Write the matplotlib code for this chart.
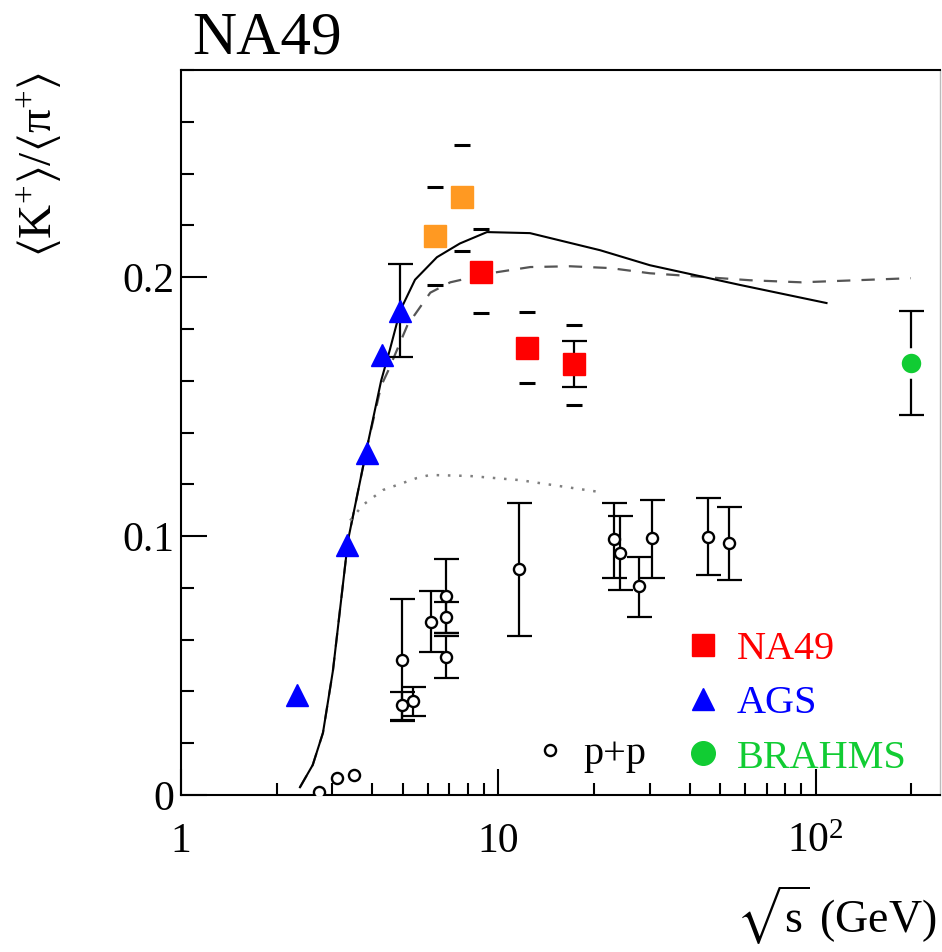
import matplotlib
matplotlib.use('Agg')
import matplotlib.pyplot as plt
from matplotlib.lines import Line2D
from matplotlib.ticker import FixedLocator, FixedFormatter, MultipleLocator, NullFormatter

plt.rcParams['font.family'] = ['Liberation Serif', 'DejaVu Serif']
plt.rcParams['mathtext.fontset'] = 'custom'
plt.rcParams['mathtext.rm'] = 'Liberation Serif'
plt.rcParams['mathtext.it'] = 'Liberation Serif:italic'
plt.rcParams['mathtext.fallback'] = 'stix'

# NA49 central Pb+Pb (first two orange, rest red)
na49_x = [6.3, 7.7, 8.8, 12.3, 17.3]
na49_y = [0.216, 0.231, 0.202, 0.1726, 0.1665]
na49_sys_hi = [0.235, 0.251, 0.2185, 0.1865, 0.1815]
na49_sys_lo = [0.197, 0.210, 0.186, 0.159, 0.1506]
na49_stat = [0.0, 0.0, 0.0, 0.0, 0.0089]
na49_col = ['#ff9922', '#ff9922', '#ff0000', '#ff0000', '#ff0000']

# AGS
ags_x = [2.32, 3.34, 3.86, 4.31, 4.91]
ags_y = [0.0386, 0.0965, 0.132, 0.170, 0.187]
ags_err = [0.0, 0.0, 0.0, 0.0, 0.018]

# BRAHMS
brahms_x = [200.0]
brahms_y = [0.1668]
brahms_err = [0.0200]

# p+p
pp_x = [2.72, 3.1, 3.51, 4.98, 4.98, 5.39, 6.15, 6.85, 6.85, 6.85,
        11.6, 23.1, 24.1, 27.7, 30.4, 45.6, 53.2]
pp_y = [0.001, 0.0066, 0.0077, 0.0521, 0.0347, 0.0363, 0.0668, 0.0768, 0.0687, 0.0533,
        0.0873, 0.0988, 0.0934, 0.0807, 0.0992, 0.0996, 0.0973]
pp_lo = [0, 0, 0, 0.0236, 0.0057, 0.0058, 0.0116, 0.0143, 0.006, 0.0081,
         0.0259, 0.015, 0.0142, 0.012, 0.0154, 0.0147, 0.0143]
pp_hi = [0, 0, 0, 0.0236, 0.0051, 0.0054, 0.012, 0.0143, 0.006, 0.0081,
         0.0254, 0.0139, 0.0143, 0.0112, 0.0147, 0.0151, 0.0139]

# model curves
solid_x = [2.37, 2.60, 2.80, 3.01, 3.36, 3.85, 4.27, 4.55, 4.90, 5.46, 6.40, 7.56,
           9.20, 12.57, 20.9, 30.0, 57.6, 108]
solid_y = [0.003, 0.0116, 0.024, 0.048, 0.0985, 0.134, 0.160, 0.172, 0.187, 0.199,
           0.2077, 0.213, 0.2174, 0.217, 0.2104, 0.2046, 0.197, 0.190]
dash_x = [2.37, 2.60, 2.80, 3.01, 3.36, 3.85, 4.27, 4.50, 5.17, 6.1, 7.05, 9.4,
          12.6, 16.8, 22.5, 30.0, 62, 90, 199]
dash_y = [0.003, 0.0116, 0.024, 0.048, 0.0985, 0.134, 0.158, 0.164, 0.1815, 0.194,
          0.198, 0.2015, 0.2039, 0.2042, 0.2035, 0.2015, 0.1988, 0.198, 0.1996]
dot_x = [3.41, 3.74, 4.33, 5.53, 6.09, 8.13, 11.7, 15.6, 20.9]
dot_y = [0.106, 0.112, 0.1178, 0.1224, 0.1236, 0.1232, 0.1216, 0.1193, 0.117]

serif = {'family': 'Liberation Serif', 'size': 29}
ebar = dict(fmt='none', ecolor='black', elinewidth=1.6, capsize=9, capthick=1.6, zorder=3)

fig = plt.figure(figsize=(9.42, 9.52), dpi=100)
ax = fig.add_axes([181 / 942, 1 - 795 / 952, 759 / 942, 725 / 952])

ax.plot(dash_x, dash_y, color='#555555', lw=1.6, ls=(0, (6, 5)), zorder=2)
ax.plot(solid_x, solid_y, color='black', lw=1.5, zorder=2)
ax.plot(dot_x, dot_y, color='#808080', lw=1.8, ls=(0, (1, 3.5)), zorder=2)

# p+p (error bars only where there is one)
sel = [i for i in range(len(pp_x)) if pp_lo[i] > 0]
ax.errorbar([pp_x[i] for i in sel], [pp_y[i] for i in sel],
            yerr=[[pp_lo[i] for i in sel], [pp_hi[i] for i in sel]], **ebar)
ax.plot(pp_x, pp_y, ls='none', marker='o', ms=8, mfc='white', mec='black', mew=1.7, zorder=4)

# NA49
sel = [i for i in range(len(na49_x)) if na49_stat[i] > 0]
ax.errorbar([na49_x[i] for i in sel], [na49_y[i] for i in sel],
            yerr=[na49_stat[i] for i in sel], **ebar)
ax.plot(na49_x, na49_sys_hi, ls='none', marker='_', ms=11, mew=2.2, color='black', zorder=3)
ax.plot(na49_x, na49_sys_lo, ls='none', marker='_', ms=11, mew=2.2, color='black', zorder=3)
for xx, yy, cc in zip(na49_x, na49_y, na49_col):
    ax.plot([xx], [yy], ls='none', marker='s', ms=16, color=cc, mec=cc, zorder=4)

# AGS
sel = [i for i in range(len(ags_x)) if ags_err[i] > 0]
ax.errorbar([ags_x[i] for i in sel], [ags_y[i] for i in sel],
            yerr=[ags_err[i] for i in sel], **ebar)
ax.plot(ags_x, ags_y, ls='none', marker='^', ms=16, color='#0000ff', zorder=4)

# BRAHMS
ax.errorbar(brahms_x, brahms_y, yerr=brahms_err, **ebar)
ax.plot(brahms_x, brahms_y, ls='none', marker='o', ms=18, color='#11cc33',
        mec='white', mew=4, zorder=4)

ax.set_xscale('log')
ax.set_xlim(1, 246)
ax.set_ylim(0, 0.28)

ax.xaxis.set_major_locator(FixedLocator([1, 10, 100]))
ax.xaxis.set_major_formatter(FixedFormatter(['1', '10', r'$10^{2}$']))
ax.xaxis.set_minor_locator(FixedLocator([2, 3, 4, 5, 6, 7, 8, 9, 20, 30, 40, 50, 60, 70, 80, 90, 200]))
ax.xaxis.set_minor_formatter(NullFormatter())
ax.yaxis.set_major_locator(FixedLocator([0, 0.1, 0.2]))
ax.yaxis.set_major_formatter(FixedFormatter(['0', '0.1', '0.2']))
ax.yaxis.set_minor_locator(MultipleLocator(0.02))

ax.tick_params(which='both', direction='in', top=False, right=False, width=1.5, labelsize=30)
ax.tick_params(which='major', length=19)
ax.tick_params(which='minor', length=9)
ax.tick_params(axis='x', which='major', pad=20)
ax.tick_params(axis='y', which='major', pad=5)
for sp in ax.spines.values():
    sp.set_linewidth(1.5)
ax.spines['right'].set_color('#bbbbbb')
ax.spines['right'].set_linewidth(1.0)

# legends
h1 = [Line2D([], [], ls='none', marker='s', ms=16, color='#ff0000'),
      Line2D([], [], ls='none', marker='^', ms=16, color='#0000ff'),
      Line2D([], [], ls='none', marker='o', ms=17, color='#11cc33')]
leg1 = ax.legend(h1, ['NA49', 'AGS', 'BRAHMS'], loc='upper left', bbox_to_anchor=(0.661, 0.226),
                 frameon=False, prop=serif, numpoints=1, handlelength=1.0, handletextpad=0.35,
                 labelspacing=0.42, borderpad=0, borderaxespad=0,
                 labelcolor=['#ff0000', '#0000ff', '#11cc33'])
ax.add_artist(leg1)
h2 = [Line2D([], [], ls='none', marker='o', ms=8, mfc='white', mec='black', mew=1.7)]
ax.legend(h2, ['p+p'], loc='upper left', bbox_to_anchor=(0.46, 0.081), frameon=False,
          prop=serif, numpoints=1, handlelength=1.0, handletextpad=0.33,
          borderpad=0, borderaxespad=0)

fig.text(192 / 942, 1 - 53 / 952, 'NA49', fontsize=44, va='baseline', ha='left')
fig.text(40 / 942, 1 - 72 / 952, r'$\langle\mathrm{K}^{+}\rangle/\langle\mathrm{π}^{+}\rangle$',
         fontsize=34, rotation=90, ha='center', va='top')
fig.text(936 / 942, 1 - 947 / 952, r'$\sqrt{\mathrm{s}}$ (GeV)', fontsize=33, ha='right', va='bottom')

fig.savefig('out.png', dpi=100)
